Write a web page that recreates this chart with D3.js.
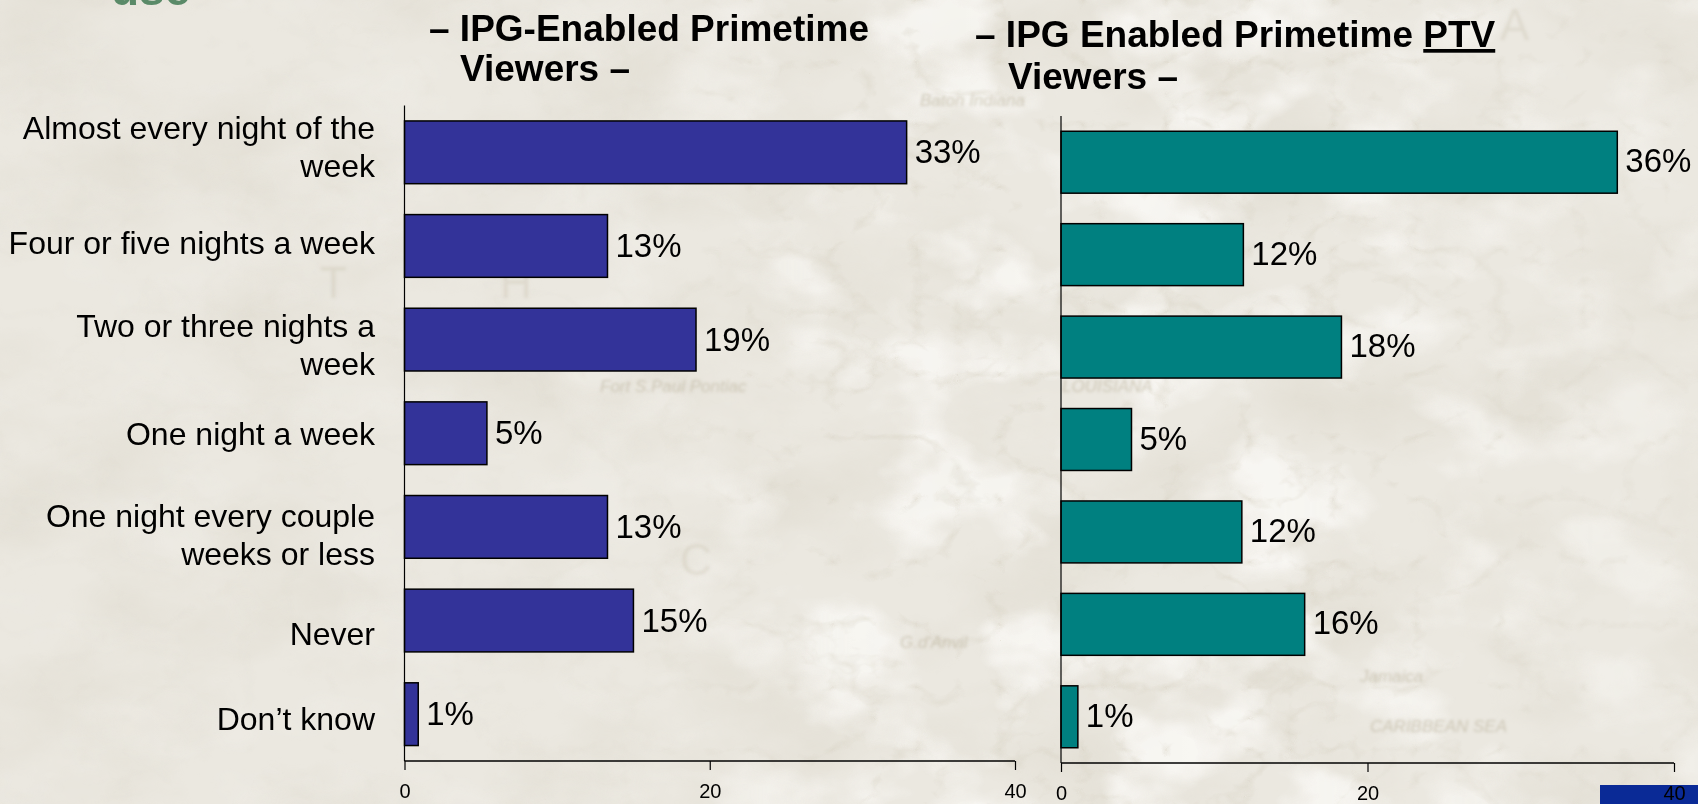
<!DOCTYPE html>
<html><head><meta charset="utf-8">
<script src="https://cdn.jsdelivr.net/npm/d3@7/dist/d3.min.js"></script>
<style>html,body{margin:0;padding:0;background:#ebe8e0;overflow:hidden}svg{display:block}text{font-family:"Liberation Sans",Arial,sans-serif}</style>
</head><body><div id="c"></div>
<script>
const categories = [["Almost every night of the","week"],["Four or five nights a week"],["Two or three nights a","week"],["One night a week"],["One night every couple","weeks or less"],["Never"],["Don’t know"]];
const keys = categories.map(d=>d.join(" "));
const leftValues = [32.9,13.3,19.1,5.4,13.3,15,0.9];
const leftLabels = ["33%","13%","19%","5%","13%","15%","1%"];
const rightValues = [36.3,11.9,18.3,4.6,11.8,15.9,1.1];
const rightLabels = ["36%","12%","18%","5%","12%","16%","1%"];
const tickValues = [0,20,40];
const categoryNudge = [-5,-3,5,1,8,13,5];
const mapLetters = [["T",320,298],["H",500,298],["C",680,575],["A",1500,40]];
const mapNotes = [["Baton Indiana",920,106],["Fort S.Paul Pontiac",600,392],["LOUISIANA",1062,392],["Jamaica",1360,682],["CARIBBEAN SEA",1370,732],["G.d'Anvil",900,648]];

const W=1698,H=804;
const svg=d3.select("#c").append("svg").attr("width",W).attr("height",H);
const defs=svg.append("defs");
const f=defs.append("filter").attr("id","paper").attr("x",0).attr("y",0).attr("width","100%").attr("height","100%");
f.append("feTurbulence").attr("type","fractalNoise").attr("baseFrequency","0.006 0.009").attr("numOctaves",5).attr("seed",11);
f.append("feColorMatrix").attr("type","matrix").attr("values","0 0 0 0 0.62  0 0 0 0 0.58  0 0 0 0 0.48  1.5 0 0 0 -0.62");
const fm=defs.append("filter").attr("id","lines").attr("x",0).attr("y",0).attr("width","100%").attr("height","100%");
fm.append("feTurbulence").attr("type","turbulence").attr("baseFrequency","0.012 0.016").attr("numOctaves",4).attr("seed",5);
fm.append("feColorMatrix").attr("type","matrix").attr("values","0 0 0 0 0.66  0 0 0 0 0.62  0 0 0 0 0.52  -5 0 0 0 1.0");
const fw=defs.append("filter").attr("id","light").attr("x",0).attr("y",0).attr("width","100%").attr("height","100%");
fw.append("feTurbulence").attr("type","fractalNoise").attr("baseFrequency","0.009 0.013").attr("numOctaves",4).attr("seed",23);
fw.append("feColorMatrix").attr("type","matrix").attr("values","0 0 0 0 0.98  0 0 0 0 0.97  0 0 0 0 0.95  4 0 0 0 -1.9");
const bl=defs.append("filter").attr("id","soft");bl.append("feGaussianBlur").attr("stdDeviation",1.4);
const mg=defs.append("linearGradient").attr("id","mg").attr("x1",0).attr("x2",1).attr("y1",0).attr("y2",0);
[[0,0.12],[0.38,0.25],[0.5,0.9],[0.75,1],[0.9,0.6],[1,0.45]].forEach(s=>mg.append("stop").attr("offset",s[0]).attr("stop-color","#fff").attr("stop-opacity",s[1]));
defs.append("mask").attr("id","mapMask").append("rect").attr("width",W).attr("height",H).attr("fill","url(#mg)");
svg.append("rect").attr("width",W).attr("height",H).attr("fill","#ebe8e0");
svg.append("rect").attr("width",W).attr("height",H).attr("filter","url(#paper)").attr("opacity",0.4);
const mapG=svg.append("g").attr("mask","url(#mapMask)");
mapG.append("rect").attr("width",W).attr("height",H).attr("filter","url(#light)").attr("opacity",0.7);
mapG.append("rect").attr("width",W).attr("height",H).attr("filter","url(#lines)").attr("opacity",0.4);
const bgT=svg.append("g").attr("filter","url(#soft)").attr("fill","#b5ac94").attr("font-family","Liberation Serif");
bgT.selectAll("text.l").data(mapLetters).join("text").attr("class","l").attr("x",d=>d[1]).attr("y",d=>d[2]).attr("font-size",44).attr("opacity",.22).text(d=>d[0]);
bgT.selectAll("text.n").data(mapNotes).join("text").attr("class","n").attr("x",d=>d[1]).attr("y",d=>d[2]).attr("font-size",17).attr("font-style","italic").attr("opacity",.55).text(d=>d[0]);

// corner fragments
svg.append("text").attr("x",111).attr("y",5).attr("font-size",46).attr("font-weight","bold").attr("fill","#5a8a68").text("use");
svg.append("rect").attr("x",1600).attr("y",785).attr("width",98).attr("height",19).attr("fill","#0a2a96");

function panel(o){
  const x=d3.scaleLinear().domain([0,40]).range([o.x0,o.x1]);
  const y=d3.scaleBand().domain(keys).range([o.top,o.bottom]).paddingInner(0.33).paddingOuter(0.165);
  const g=svg.append("g");
  g.selectAll("rect.bar").data(o.values).join("rect").attr("class","bar")
    .attr("x",x(0)).attr("y",(d,i)=>y(keys[i])).attr("width",d=>x(d)-x(0)).attr("height",y.bandwidth())
    .attr("fill",o.color).attr("stroke","#000").attr("stroke-width",1.5);
  const ax=g.append("g").attr("transform",`translate(0,${o.bottom})`)
    .call(d3.axisBottom(x).tickValues(tickValues).tickSize(9).tickPadding(14).tickFormat(d3.format("d")));
  ax.select(".domain").attr("stroke","#000").attr("stroke-width",1.5).attr("d",`M${o.x0},0H${o.x1}`);
  ax.selectAll(".tick line").attr("stroke","#000").attr("stroke-width",1.2);
  ax.selectAll("text").attr("font-size",20).attr("fill","#000").attr("font-family","Liberation Sans");
  g.append("line").attr("x1",x(0)).attr("x2",x(0)).attr("y1",o.top).attr("y2",o.bottom).attr("stroke","#000").attr("stroke-width",1.2);
  g.selectAll("text.val").data(o.values).join("text").attr("class","val")
    .attr("x",d=>x(d)+8).attr("y",(d,i)=>y(keys[i])+y.bandwidth()/2+o.labelDy).attr("font-size",33).attr("fill","#000").text((d,i)=>o.labels[i]);
  return y;
}
const yL=panel({x0:404.5,x1:1015,top:105.5,bottom:761,values:leftValues,labels:leftLabels,color:"#333399",labelDy:11});
panel({x0:1061,x1:1674,top:116,bottom:763,values:rightValues,labels:rightLabels,color:"#008080",labelDy:10});

const lab=svg.append("g");
lab.selectAll("text").data(categories).join("text").attr("text-anchor","end").attr("font-size",32).attr("fill","#000")
  .each(function(d,i){
    const c=yL(keys[i])+yL.bandwidth()/2+categoryNudge[i];
    const t=d3.select(this);
    d.forEach((s,j)=>t.append("tspan").attr("x",375).attr("y",c+11-(d.length-1)*19+j*38).text(s));
  });

const title=svg.append("g").attr("font-size",37).attr("font-weight","bold").attr("fill","#000");
title.append("text").attr("x",429).attr("y",41).text("– IPG-Enabled Primetime");
title.append("text").attr("x",460).attr("y",81).text("Viewers –");
const t2=title.append("text").attr("x",975).attr("y",47);
t2.append("tspan").text("– IPG Enabled Primetime ");
t2.append("tspan").attr("text-decoration","underline").text("PTV");
title.append("text").attr("x",1008).attr("y",89).text("Viewers –");
</script></body></html>
